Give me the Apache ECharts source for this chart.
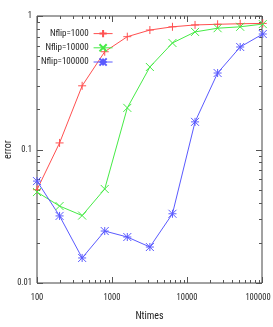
<!DOCTYPE html>
<html><head><meta charset="utf-8">
<script src="https://cdn.jsdelivr.net/npm/echarts@6/dist/echarts.min.js"></script>
<style>html,body{margin:0;padding:0;background:#fff}#c{width:273px;height:327px}</style>
</head><body><div id="c"></div>
<script>
const ntimes = [100, 200, 400, 800, 1600, 3200, 6400, 12800, 25600, 51200, 102400];
const nflip1000 = [0.050, 0.112, 0.30, 0.54, 0.70, 0.785, 0.83, 0.857, 0.867, 0.875, 0.88];
const nflip10000 = [0.048, 0.0377, 0.032, 0.0506, 0.205, 0.415, 0.628, 0.76, 0.81, 0.83, 0.87];
const nflip100000 = [0.058, 0.0318, 0.0154, 0.0245, 0.0221, 0.0186, 0.033, 0.161, 0.374, 0.586, 0.733];
const xMajor = [100, 1000, 10000, 100000];
const xMinor = [200,300,400,500,600,700,800,900,2000,3000,4000,5000,6000,7000,8000,9000,20000,30000,40000,50000,60000,70000,80000,90000];
const yMajor = [0.01, 0.1, 1];
const yMinor = [0.02,0.03,0.04,0.05,0.06,0.07,0.08,0.09,0.2,0.3,0.4,0.5,0.6,0.7,0.8,0.9];
const names = ['Nflip=1000', 'Nflip=10000', 'Nflip=100000'];
const colors = ['rgb(255,80,80)', 'rgb(70,235,70)', 'rgb(90,90,255)'];
const symbols = [
  'path://M0,5 L10,5 M5,0 L5,10',
  'path://M0,0 L10,10 M10,0 L0,10',
  'path://M0,5 L10,5 M5,0 L5,10 M0,0 L10,10 M10,0 L0,10'
];
const FONT = "'Roboto Condensed', 'Liberation Sans', sans-serif";
const chart = echarts.init(document.getElementById('c'));
function mk(vals, i) {
  return {
    name: names[i], type: 'line', clip: false,
    data: ntimes.map((x, k) => [x, vals[k]]),
    symbol: symbols[i], symbolSize: 8,
    lineStyle: { color: colors[i], width: 1 },
    itemStyle: { color: 'rgba(0,0,0,0)', borderColor: colors[i], borderWidth: 1 },
    emphasis: { disabled: true }
  };
}
const tickColor = '#555';
const ticks = {
  type: 'custom', coordinateSystem: 'cartesian2d', clip: false, silent: true,
  data: [[100, 0.01]],
  renderItem: function (params, api) {
    const els = [];
    const line = (x1, y1, x2, y2) => els.push({ type: 'line', shape: { x1, y1, x2, y2 }, style: { stroke: tickColor, lineWidth: 1 } });
    const bottom = api.coord([100, 0.01])[1], top = api.coord([100, 1])[1];
    const left = api.coord([100, 0.01])[0], right = api.coord([100000, 0.01])[0];
    const xt = (v, len) => { const x = Math.round(api.coord([v, 0.01])[0]) + 0.5; line(x, bottom, x, bottom - len); line(x, top, x, top + len); };
    const yt = (v, len) => { const y = Math.round(api.coord([100, v])[1]) + 0.5; line(left, y, left + len, y); line(right, y, right - len, y); };
    xMajor.forEach(v => xt(v, 6)); xMinor.forEach(v => xt(v, 3));
    yMajor.forEach(v => yt(v, 6)); yMinor.forEach(v => yt(v, 3));
    return { type: 'group', children: els };
  }
};
chart.setOption({
  animation: false,
  backgroundColor: '#fff',
  grid: { left: 37, right: 11, top: 16, bottom: 44, show: true, borderColor: '#444', borderWidth: 1, containLabel: false, outerBoundsMode: 'none' },
  legend: {
    left: 36, top: 24, orient: 'vertical', align: 'right', itemWidth: 19, itemHeight: 9, itemGap: 5,
    data: names,
    lineStyle: { width: 1 },
    textStyle: { fontFamily: FONT, fontSize: 9, color: '#222', width: 48, align: 'right', padding: 0 }
  },
  xAxis: {
    type: 'log', logBase: 10, min: 100, max: 100000,
    name: 'Ntimes', nameLocation: 'middle', nameGap: 28, nameMoveOverlap: false,
    nameTextStyle: { fontFamily: FONT, fontSize: 10, color: '#222' },
    axisLine: { show: false }, axisTick: { show: false }, splitLine: { show: false },
    axisLabel: {
      fontFamily: FONT, fontSize: 8.5, color: '#222', margin: 10,
      formatter: v => { const s = String(Math.round(v)); return v >= 99999 ? '{r|' + s + '}' : s; },
      rich: { r: { fontFamily: FONT, fontSize: 8.5, color: '#222', padding: [0, 8, 0, 0] } }
    }
  },
  yAxis: {
    type: 'log', logBase: 10, min: 0.01, max: 1,
    name: 'error', nameLocation: 'middle', nameGap: 24, nameMoveOverlap: false,
    nameTextStyle: { fontFamily: FONT, fontSize: 10, color: '#222' },
    axisLine: { show: false }, axisTick: { show: false }, splitLine: { show: false },
    axisLabel: { fontFamily: FONT, fontSize: 8.5, color: '#222', margin: 5, formatter: v => v >= 1 ? '1' : (v >= 0.1 ? '0.1' : '0.01') }
  },
  series: [mk(nflip1000, 0), mk(nflip10000, 1), mk(nflip100000, 2), ticks]
});
</script></body></html>
